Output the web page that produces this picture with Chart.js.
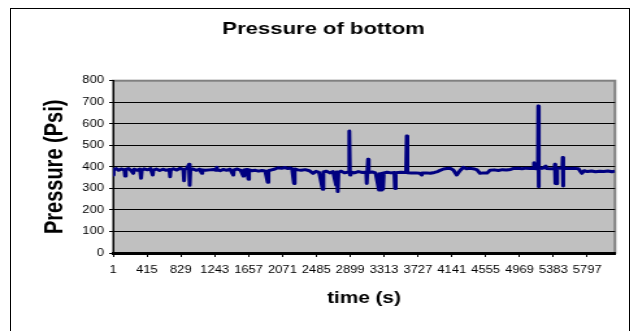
<!DOCTYPE html>
<html>
<head>
<meta charset="utf-8">
<script src="https://cdn.jsdelivr.net/npm/chart.js@4"></script>
<style>
  body { margin: 0; background: #fff; }
  #frame { position: absolute; left: 10px; top: 8px; width: 618px; height: 340px; border: 1px solid #000; }
  #chart { position: absolute; left: 0; top: 0; width: 638px; height: 331px; }
</style>
</head>
<body>
<div id="frame"></div>
<canvas id="chart" width="491" height="331" style="width:638px;height:331px"></canvas>
<script>
// time in seconds
const timeSec = [
  1, 5, 10, 40, 70, 100, 140, 148, 156, 190, 220, 249, 258, 300, 330, 343, 352, 380, 420, 460,
  486, 494, 530, 570, 610, 650, 690, 698, 706, 740, 780, 820, 860, 869, 877, 905, 930, 938, 946, 980,
  1020, 1060, 1085, 1093, 1130, 1180, 1230, 1260, 1269, 1278, 1310, 1350, 1390, 1430, 1471, 1479, 1520, 1560, 1594, 1602,
  1640, 1655, 1663, 1700, 1740, 1780, 1820, 1860, 1892, 1900, 1940, 1980, 2018, 2060, 2100, 2140, 2164, 2190, 2213, 2221,
  2260, 2300, 2350, 2400, 2446, 2480, 2520, 2564, 2572, 2610, 2650, 2690, 2727, 2735, 2748, 2756, 2790, 2830, 2880, 2889,
  2897, 2905, 2950, 3000, 3050, 3096, 3102, 3118, 3126, 3170, 3210, 3252, 3260, 3268, 3277, 3285, 3293, 3301, 3310, 3350,
  3400, 3440, 3448, 3456, 3520, 3583, 3591, 3599, 3650, 3700, 3750, 3774, 3782, 3830, 3880, 3930, 3970, 4000, 4040, 4080,
  4120, 4160, 4202, 4240, 4283, 4320, 4370, 4420, 4450, 4487, 4530, 4573, 4609, 4660, 4710, 4760, 4810, 4860, 4890, 4950,
  5000, 5050, 5100, 5135, 5147, 5155, 5195, 5199, 5203, 5207, 5250, 5290, 5298, 5350, 5398, 5402, 5406, 5410, 5424, 5428,
  5432, 5470, 5494, 5498, 5502, 5506, 5550, 5600, 5650, 5690, 5731, 5760, 5800, 5850, 5900, 5950, 6000, 6050, 6100, 6136
];
// pressure in Psi
const pressurePsi = [
  370, 362, 388, 392, 384, 390, 386, 357, 388, 392, 383, 370, 389, 384, 390, 347, 384, 391, 386, 392,
  362, 385, 390, 383, 389, 384, 388, 354, 386, 391, 385, 393, 388, 336, 387, 393, 412, 314, 386, 390,
  384, 389, 370, 386, 384, 386, 388, 384, 398, 386, 382, 388, 384, 389, 362, 386, 390, 384, 357, 386,
  388, 343, 386, 382, 384, 380, 383, 381, 328, 382, 386, 390, 396, 393, 397, 392, 395, 391, 323, 390,
  386, 384, 387, 382, 370, 379, 374, 296, 376, 380, 372, 378, 316, 376, 285, 375, 380, 372, 376, 566,
  362, 376, 372, 378, 374, 376, 323, 435, 374, 376, 372, 292, 368, 300, 362, 292, 370, 296, 372, 375,
  372, 374, 300, 373, 375, 374, 543, 373, 371, 372, 370, 362, 371, 372, 370, 374, 378, 384, 390, 392,
  393, 385, 362, 382, 398, 391, 393, 390, 386, 370, 372, 371, 384, 386, 383, 387, 385, 388, 392, 393,
  391, 394, 392, 393, 419, 392, 390, 682, 308, 392, 393, 404, 392, 391, 392, 412, 323, 392, 390, 322,
  392, 394, 392, 443, 311, 392, 394, 392, 393, 391, 370, 382, 378, 381, 377, 380, 378, 381, 377, 380
];
const xTickLabels = [1, 415, 829, 1243, 1657, 2071, 2485, 2899, 3313, 3727, 4141, 4555, 4969, 5383, 5797];
const yTickLabels = [0, 100, 200, 300, 400, 500, 600, 700, 800];

const font = 'Liberation Sans, Arial, sans-serif';

const plotBackground = {
  id: 'plotBackground',
  beforeDraw(chart) {
    const { ctx, chartArea: a } = chart;
    ctx.save();
    ctx.fillStyle = '#c0c0c0';
    ctx.fillRect(a.left, a.top, a.right - a.left, a.bottom - a.top);
    ctx.strokeStyle = '#808080';
    ctx.lineWidth = 2;
    ctx.strokeRect(a.left, a.top, a.right - a.left, a.bottom - a.top);
    ctx.restore();
  }
};

new Chart(document.getElementById('chart'), {
  type: 'line',
  data: {
    datasets: [{
      label: 'Pressure',
      data: timeSec.map((t, i) => ({ x: t, y: pressurePsi[i] })),
      borderColor: '#000080',
      borderWidth: 3,
      borderJoinStyle: 'round',
      pointRadius: 0,
      tension: 0,
      fill: false
    }]
  },
  options: {
    responsive: false,
    animation: false,
    layout: { padding: { left: 24.7, right: 17.7, top: 0, bottom: 0 } },
    plugins: {
      legend: { display: false },
      tooltip: { enabled: false },
      title: {
        display: true,
        text: 'Pressure of bottom',
        color: '#000',
        font: { family: font, size: 17, weight: 'bold' },
        padding: { top: 19.3, bottom: 41 }
      }
    },
    scales: {
      x: {
        type: 'linear',
        min: 1,
        max: 6137,
        afterFit: s => { s.height = 78; },
        afterBuildTicks: s => { s.ticks = xTickLabels.map(v => ({ value: v })); },
        ticks: {
          color: '#000',
          font: { family: font, size: 10 },
          padding: 7,
          maxRotation: 0,
          autoSkip: false,
          callback: v => String(v)
        },
        grid: { drawOnChartArea: false, drawTicks: true, tickLength: 4, tickColor: '#000' },
        border: { display: true, color: '#000', width: 3 },
        title: {
          display: true,
          text: 'time (s)',
          color: '#000',
          font: { family: font, size: 16, weight: 'bold' },
          padding: { top: 0, bottom: 22.4 }
        }
      },
      y: {
        min: 0,
        max: 800,
        afterFit: s => { s.width = 62.3; },
        afterBuildTicks: s => { s.ticks = yTickLabels.map(v => ({ value: v })); },
        ticks: {
          color: '#000',
          font: { family: font, size: 10 },
          padding: 4,
          callback: v => String(v)
        },
        grid: {
          color: c => (c.tick && c.tick.value === 800 ? '#808080' : '#000'),
          lineWidth: 1,
          tickLength: 3,
          tickColor: '#000'
        },
        border: { display: true, color: '#000', width: 1 },
        title: {
          display: true,
          text: 'Pressure (Psi)',
          color: '#000',
          font: { family: font, size: 20, weight: 'bold' },
          padding: { top: 5.6, bottom: 0 }
        }
      }
    }
  },
  plugins: [plotBackground]
});
</script>
</body>
</html>
